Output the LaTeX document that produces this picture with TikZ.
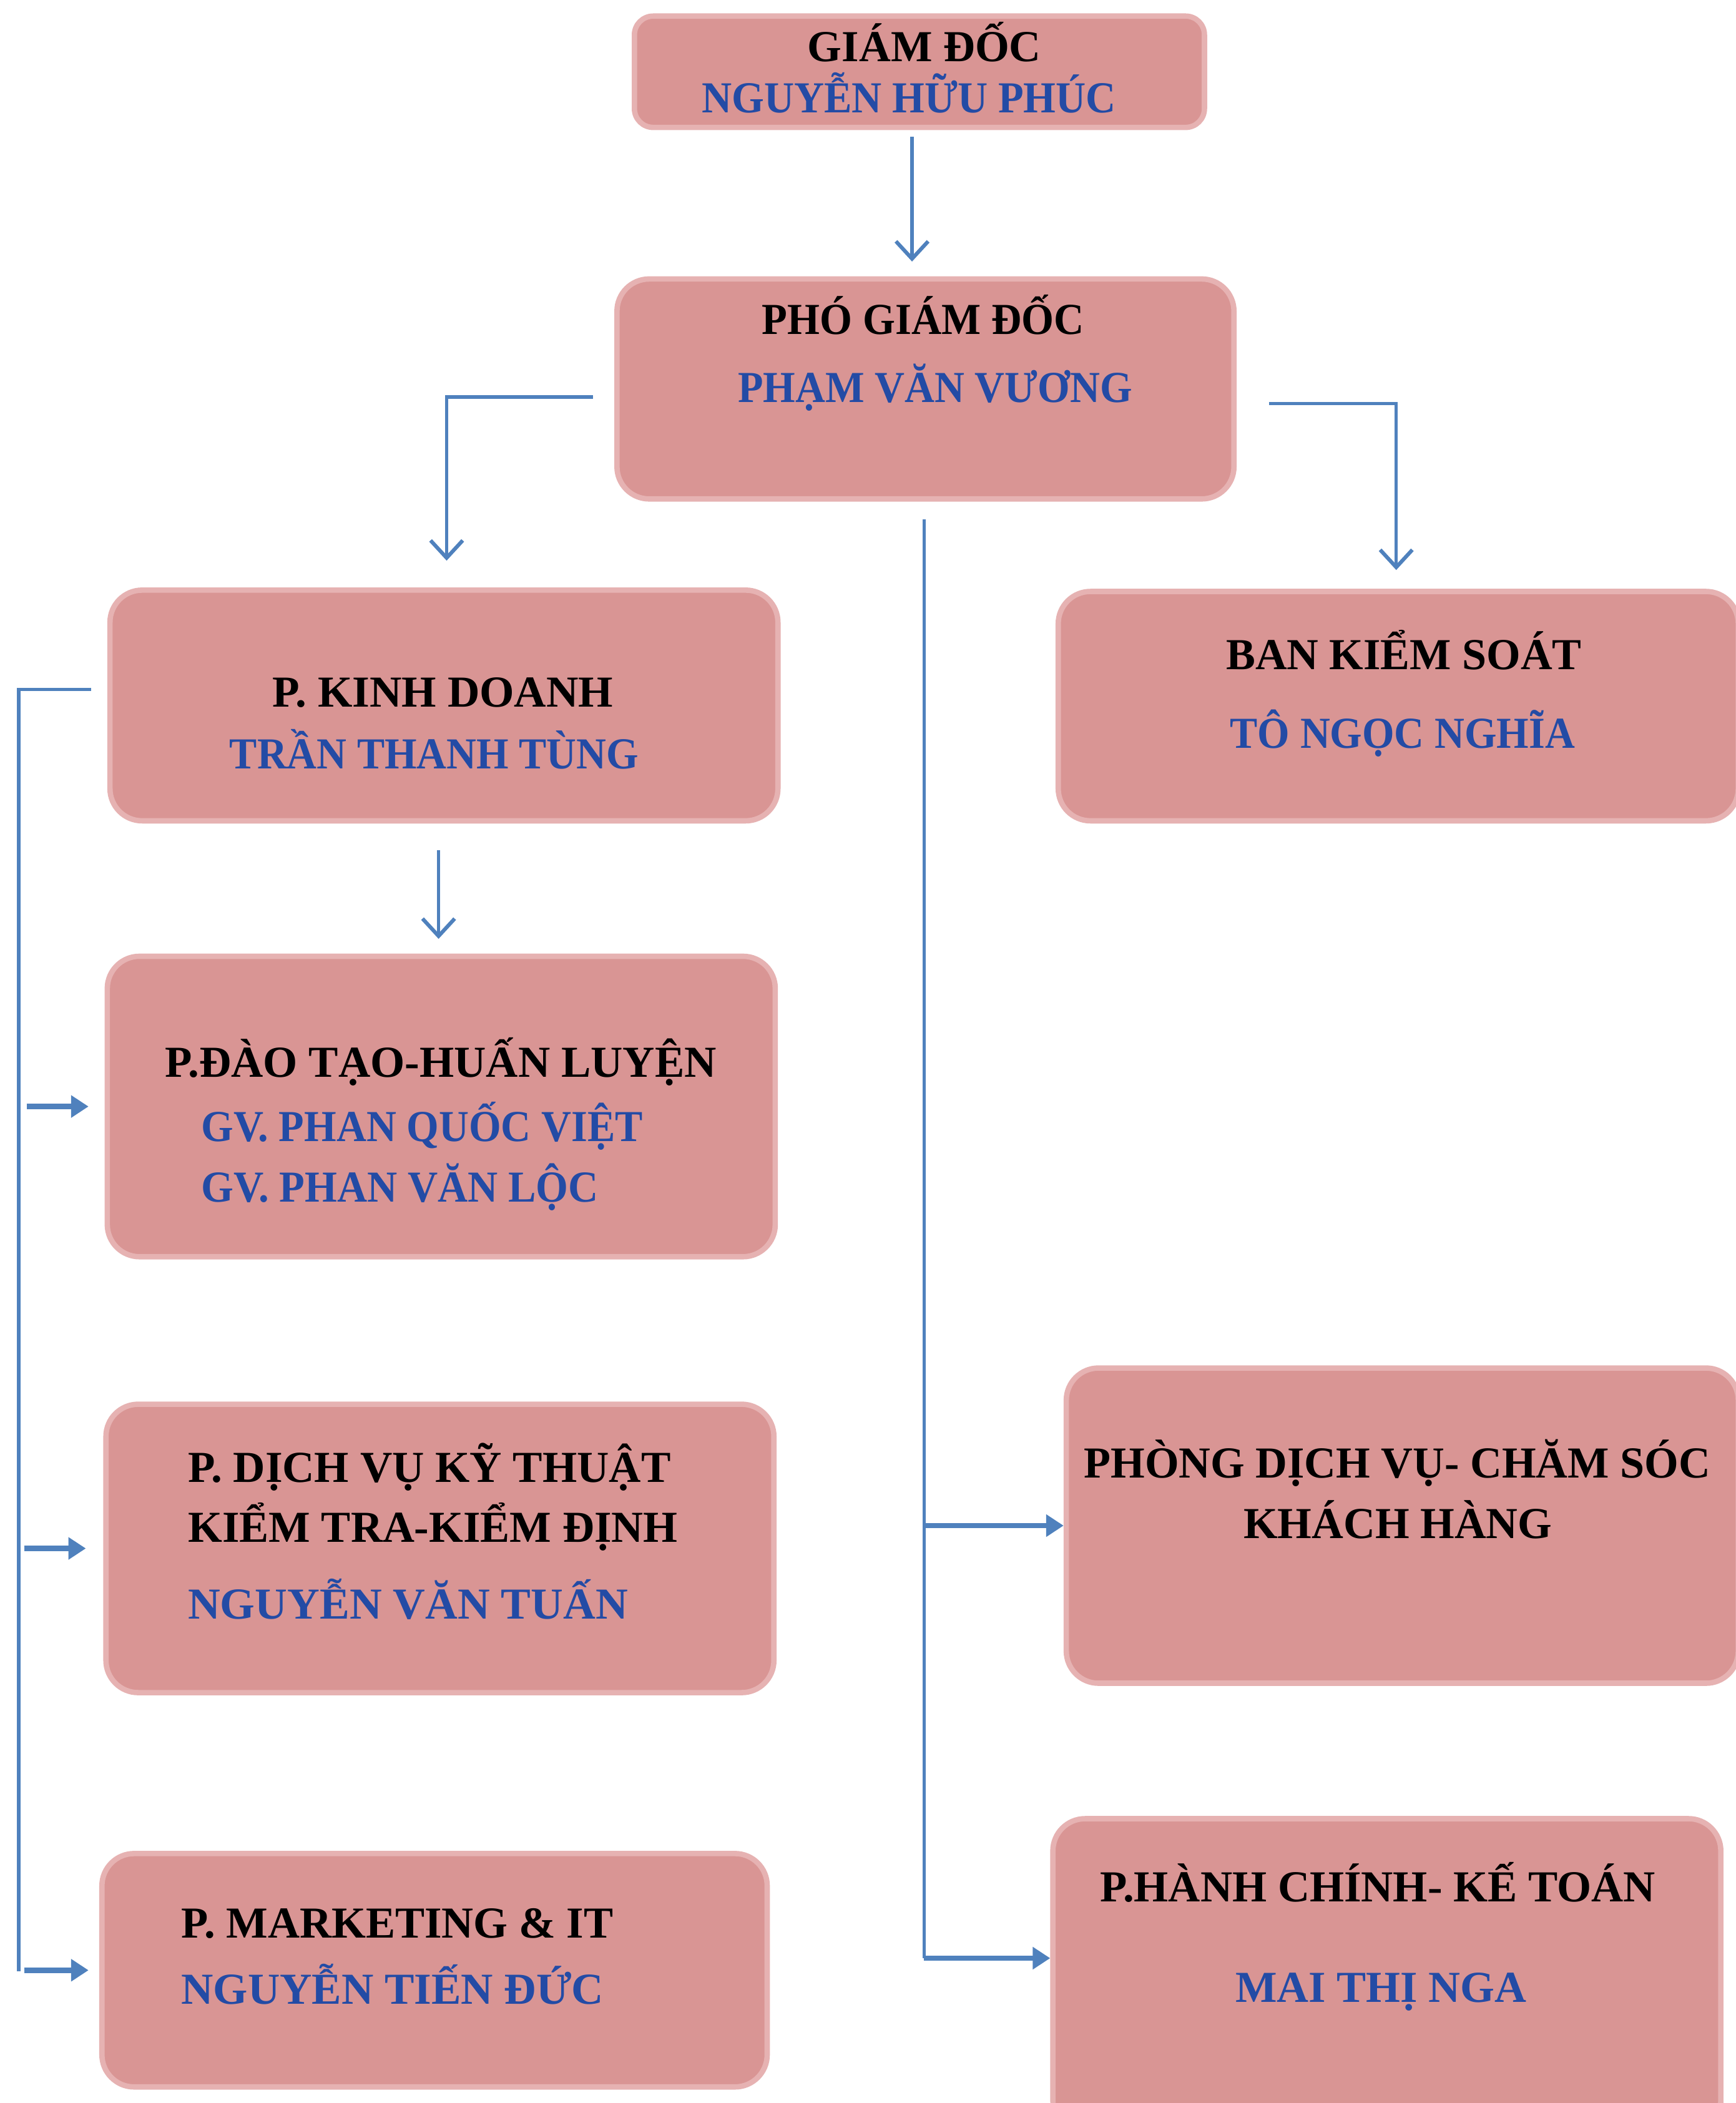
\documentclass[tikz,border=0pt]{standalone}
\usepackage{fontspec}
\setmainfont{Liberation Serif}
\usepackage{graphicx}
\usetikzlibrary{arrows.meta}
\definecolor{boxfill}{RGB}{217,149,148}
\definecolor{boxrim}{RGB}{230,178,178}
\definecolor{arrowblue}{RGB}{79,129,189}
\definecolor{nameblue}{RGB}{35,75,165}
\newcommand\fitw[2]{\resizebox{#1pt}{\height}{#2}}
\tikzset{
 orgbox/.style={rounded corners=24pt, fill=boxfill, draw=boxrim, line width=4pt, inner sep=0pt},
 head/.style={anchor=base west, inner sep=0pt, font=\fontsize{33}{39}\selectfont\bfseries, text=black},
 person/.style={head, text=nameblue},
 vline/.style={draw=arrowblue, line width=2.5pt},
 darr/.style={vline, -{Straight Barb[length=13pt,width=24pt,line width=2.8pt]}},
 harr/.style={draw=arrowblue, line width=4pt, -{Triangle[length=13pt,width=16pt]}},
}
\begin{document}
\begin{tikzpicture}[x=1pt,y=-1pt]
\useasboundingbox (0,0) rectangle (1294,1568);
\fill[white] (0,0) rectangle (1294,1568);
% boxes
\node[orgbox, rounded corners=14pt, minimum width=425pt, minimum height=83pt] (gd) at (685.5,53.5) {};
\node[orgbox, minimum width=460pt, minimum height=164pt] (pgd) at (690,290) {};
\node[orgbox, minimum width=498pt, minimum height=172pt] (kd) at (331,526) {};
\node[orgbox, minimum width=507pt, minimum height=171pt] (bks) at (1042.5,526.5) {};
\node[orgbox, minimum width=498pt, minimum height=224pt] (dt) at (329,825) {};
\node[orgbox, minimum width=498pt, minimum height=215pt] (dv) at (328,1154.5) {};
\node[orgbox, minimum width=496pt, minimum height=174pt] (mk) at (324,1469) {};
\node[orgbox, minimum width=501pt, minimum height=235pt] (cs) at (1045.5,1137.5) {};
\node[orgbox, minimum width=498pt, minimum height=234pt] (hc) at (1034,1473) {};
% texts
\node[head] (t1) at (602,46) {\fitw{174}{GIÁM ĐỐC}};
\node[person] (t2) at (523,84) {\fitw{309}{NGUYỄN HỮU PHÚC}};
\node[head] (t3) at (568,249) {\fitw{240}{PHÓ GIÁM ĐỐC}};
\node[person] (t4) at (550,300) {\fitw{294}{PHẠM VĂN VƯƠNG}};
\node[head] (t5) at (203,527) {\fitw{254}{P. KINH DOANH}};
\node[person] (t6) at (171,573) {\fitw{305}{TRẦN THANH TÙNG}};
\node[head] (t7) at (914,499) {\fitw{265}{BAN KIỂM SOÁT}};
\node[person] (t8) at (917,558) {\fitw{257}{TÔ NGỌC NGHĨA}};
\node[head] (t9) at (123,803) {\fitw{411}{P.ĐÀO TẠO-HUẤN LUYỆN}};
\node[person] (t10) at (150,851) {\fitw{329}{GV. PHAN QUỐC VIỆT}};
\node[person] (t11) at (150,896) {\fitw{296}{GV. PHAN VĂN LỘC}};
\node[head] (t12) at (140,1105) {\fitw{360}{P. DỊCH VỤ KỸ THUẬT}};
\node[head] (t13) at (140,1150) {\fitw{365}{KIỂM TRA-KIỂM ĐỊNH}};
\node[person] (t14) at (140,1207) {\fitw{328}{NGUYỄN VĂN TUẤN}};
\node[head] (t15) at (135,1445) {\fitw{322}{P. MARKETING \& IT}};
\node[person] (t16) at (135,1494) {\fitw{315}{NGUYỄN TIẾN ĐỨC}};
\node[head] (t17) at (808,1102) {\fitw{467}{PHÒNG DỊCH VỤ- CHĂM SÓC}};
\node[head] (t18) at (927,1147) {\fitw{230}{KHÁCH HÀNG}};
\node[head] (t19) at (820,1418) {\fitw{414}{P.HÀNH CHÍNH- KẾ TOÁN}};
\node[person] (t20) at (921,1493) {\fitw{217}{MAI THỊ NGA}};
% connectors
\draw[darr, shorten <=5pt, shorten >=11pt] ([xshift=-5.5pt]gd.south) -- ([xshift=-5.5pt]gd.south |- pgd.north);
\draw[darr, shorten >=20pt] ([xshift=-16pt,yshift=-6pt]pgd.west) -| ([xshift=2pt]kd.north);
\draw[darr, shorten >=14pt] ([xshift=24pt,yshift=-11pt]pgd.east) -| ([xshift=-1.5pt]bks.north);
\draw[darr, shorten <=20pt, shorten >=11pt] ([xshift=-4pt]kd.south) -- ([xshift=-4pt]kd.south |- dt.north);
% middle trunk
\coordinate (tbot) at ([xshift=-1pt,yshift=13pt]pgd.south |- hc.west);
\draw[vline, shorten <=13pt] ([xshift=-1pt]pgd.south) -- (tbot);
\draw[harr] (tbot |- cs.west) -- (cs.west);
\draw[harr] (tbot) -- ([yshift=13pt]hc.west);
% left bracket
\coordinate (lbot) at (14,1470);
\draw[vline] ([xshift=-12pt,yshift=12pt]kd.west) -| (lbot);
\draw[harr] ([xshift=6pt]lbot |- dt.west) -- ([xshift=-12pt]dt.west);
\draw[harr] ([xshift=4pt]lbot |- dv.west) -- ([xshift=-13pt]dv.west);
\draw[harr] ([xshift=4pt]lbot |- mk.west) -- ([xshift=-8pt]mk.west);
\end{tikzpicture}
\end{document}
